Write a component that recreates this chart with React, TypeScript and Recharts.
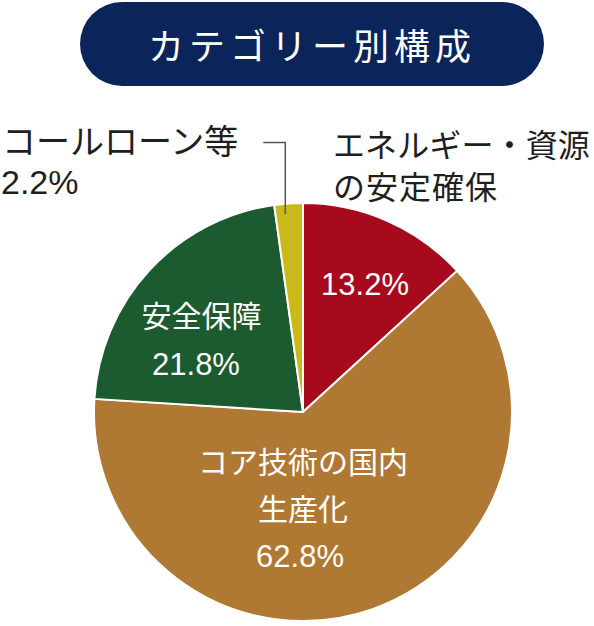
import { PieChart, Pie, Cell } from "recharts";

const TITLE = "カテゴリー別構成";
const categories = ["エネルギー・資源の安定確保", "コア技術の国内生産化", "安全保障", "コールローン等"];
const nameLines = [["エネルギー・資源", "の安定確保"], ["コア技術の国内", "生産化"], ["安全保障"], ["コールローン等"]];
const shares = [13.2, 62.8, 21.8, 2.2];
const colors = ["#a7091d", "#b07933", "#1b5b2f", "#c9b91b"];

const data = categories.map((name, i) => ({ name, value: shares[i] }));

const FONT = '"Noto Sans CJK JP", "Noto Sans", sans-serif';
const NUM_FONT = '"Liberation Sans", Arial, sans-serif';
const RAD = Math.PI / 180;

const renderLabel = (props: any) => {
  const { cx, cy, outerRadius: R, midAngle, index } = props;
  const pct = `${shares[index].toFixed(1)}%`;
  const white = { fill: "#fff", fontFamily: FONT, dominantBaseline: "central" as const };
  const dark = { fill: "#1f1f1f", fontFamily: FONT, dominantBaseline: "central" as const };
  const whiteNum = { ...white, fontFamily: NUM_FONT };
  const darkNum = { ...dark, fontFamily: NUM_FONT };

  if (index === 0) {
    // value inside, name outside to the upper right
    return (
      <g>
        <text x={cx + 0.297 * R} y={cy - 0.608 * R} textAnchor="middle" fontSize={31} {...whiteNum}>{pct}</text>
        <text x={cx + 0.143 * R} y={cy - 1.285 * R} textAnchor="start" fontSize={32} textLength={257} lengthAdjust="spacing" {...dark}>
          {nameLines[0][0]}
        </text>
        <text x={cx + 0.143 * R} y={cy - 1.285 * R + 42} textAnchor="start" fontSize={32} letterSpacing={1} {...dark}>{nameLines[0][1]}</text>
      </g>
    );
  }
  if (index === 1) {
    return (
      <g>
        {nameLines[1].map((l, k) => (
          <text key={k} x={cx} y={cy + 0.23 * R + k * 47} textAnchor="middle" fontSize={30} {...white}>{l}</text>
        ))}
        <text x={cx - 3} y={cy + 0.69 * R} textAnchor="middle" fontSize={31} {...whiteNum}>{pct}</text>
      </g>
    );
  }
  if (index === 2) {
    return (
      <g>
        <text x={cx - 0.486 * R} y={cy - 0.469 * R} textAnchor="middle" fontSize={30} {...white}>{nameLines[2][0]}</text>
        <text x={cx - 0.512 * R} y={cy - 0.225 * R} textAnchor="middle" fontSize={31} {...whiteNum}>{pct}</text>
      </g>
    );
  }
  // small slice: label outside with elbow leader line
  const ex = cx + 0.95 * R * Math.cos(-midAngle * RAD) - 4;
  const ey = cy + 0.95 * R * Math.sin(-midAngle * RAD);
  const ky = cy - 1.29 * R;
  return (
    <g>
      <polyline points={`${ex - 22},${ky} ${ex},${ky} ${ex},${ey}`} fill="none" stroke="#555" strokeWidth={1.5} />
      <text x={2} y={ky - 3} textAnchor="start" fontSize={34} {...dark}>{nameLines[3][0]}</text>
      <text x={1} y={ky + 40} textAnchor="start" fontSize={34} {...darkNum}>{pct}</text>
    </g>
  );
};

export default function App() {
  return (
    <div style={{ position: "absolute", left: 0, top: 0, width: 594, height: 626, background: "#fff", fontFamily: FONT }}>
      <div
        style={{
          position: "absolute",
          left: 80,
          top: 2,
          width: 464,
          height: 84,
          borderRadius: 42,
          background: "#0b2459",
          color: "#fff",
          fontSize: 36,
          letterSpacing: 5,
          display: "flex",
          alignItems: "center",
          justifyContent: "center",
        }}
      >
        {TITLE}
      </div>
      <PieChart width={594} height={626} margin={{ top: 0, right: 0, bottom: 0, left: 0 }}>
        <Pie
          data={data}
          dataKey="value"
          nameKey="name"
          cx={303}
          cy={412}
          outerRadius={209}
          startAngle={90}
          endAngle={-270}
          stroke="#fff"
          strokeWidth={2}
          label={renderLabel}
          labelLine={false}
          isAnimationActive={false}
        >
          {data.map((_, i) => (
            <Cell key={i} fill={colors[i]} />
          ))}
        </Pie>
      </PieChart>
    </div>
  );
}
